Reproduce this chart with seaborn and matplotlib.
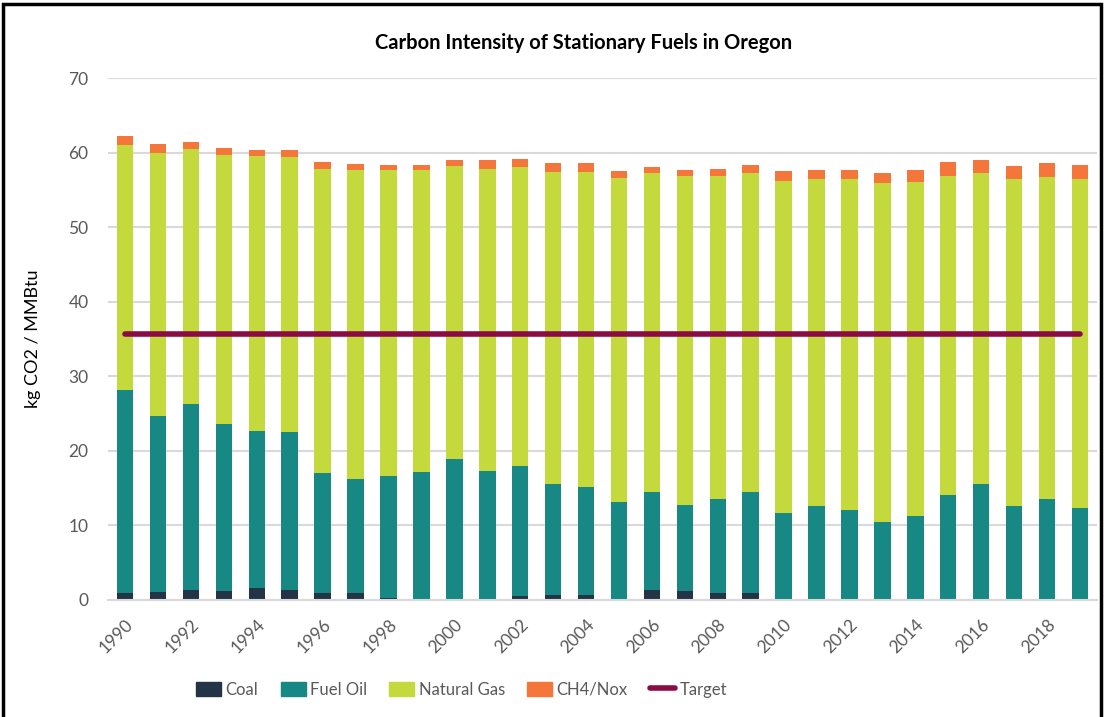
import numpy as np
import pandas as pd
import matplotlib
matplotlib.use("Agg")
import matplotlib.pyplot as plt
import seaborn as sns
from matplotlib.patches import Patch, Rectangle
from matplotlib.lines import Line2D

years = list(range(1990, 2020))
coal = [0.9, 1.1, 1.3, 1.2, 1.6, 1.4, 0.9, 0.9, 0.3, 0.0, 0.0, 0.0, 0.5, 0.7, 0.7,
        0.0, 1.3, 1.2, 0.9, 0.9, 0.0, 0.0, 0.0, 0.0, 0.0, 0.0, 0.0, 0.0, 0.0, 0.0]
fuel_oil = [27.3, 23.6, 25.0, 22.4, 21.1, 21.1, 16.1, 15.3, 16.3, 17.1, 18.9, 17.3, 17.5, 14.9, 14.4,
            13.1, 13.2, 11.6, 12.7, 13.6, 11.7, 12.6, 12.1, 10.4, 11.2, 14.1, 15.5, 12.6, 13.6, 12.4]
natural_gas = [32.8, 35.3, 34.2, 36.1, 36.8, 36.9, 40.8, 41.4, 41.1, 40.6, 39.3, 40.5, 40.1, 41.8, 42.3,
               43.5, 42.7, 44.0, 43.3, 42.7, 44.5, 43.9, 44.3, 45.5, 44.9, 42.8, 41.8, 43.9, 43.1, 44.1]
ch4_nox = [1.2, 1.1, 0.9, 0.9, 0.9, 1.0, 0.9, 0.9, 0.7, 0.7, 0.8, 1.2, 1.1, 1.2, 1.2,
           0.9, 0.9, 0.9, 0.9, 1.2, 1.3, 1.2, 1.3, 1.4, 1.5, 1.8, 1.7, 1.7, 1.9, 1.9]
target = [35.7] * 30
tick_labels = [str(y) if (y - 1990) % 2 == 0 else "" for y in years]

C_COAL = "#243447"
C_OIL = "#178884"
C_GAS = "#c4da3c"
C_CH4 = "#f4763a"
C_TGT = "#8b0b45"
GRAY = "#595959"

df = pd.DataFrame({"year": [str(y) for y in years], "coal": coal, "oil": fuel_oil,
                   "gas": natural_gas, "ch4": ch4_nox})
df["t_coal"] = df["coal"]
df["t_oil"] = df["t_coal"] + df["oil"]
df["t_gas"] = df["t_oil"] + df["gas"]
df["t_ch4"] = df["t_gas"] + df["ch4"]

sns.set_theme(style="white")
plt.rcParams["font.family"] = ["Lato", "DejaVu Sans"]

fig = plt.figure(figsize=(11.04, 7.17), dpi=100)
ax = fig.add_axes([0.0978, 0.1632, 0.8959, 0.728])

for col, c in [("t_ch4", C_CH4), ("t_gas", C_GAS), ("t_oil", C_OIL), ("t_coal", C_COAL)]:
    sns.barplot(data=df, x="year", y=col, color=c, width=0.5, ax=ax,
                saturation=1, linewidth=0, errorbar=None)

ax.plot(np.arange(len(years)), target, color=C_TGT, lw=4, solid_capstyle="round", zorder=5)

ax.set_xlim(-0.52, 29.52)
ax.set_ylim(0, 70)
ax.set_yticks(range(0, 71, 10))
ax.yaxis.grid(True, color="#d9d9d9", lw=1.5)
ax.set_axisbelow(True)
for s in ["top", "right", "left"]:
    ax.spines[s].set_visible(False)
ax.spines["bottom"].set_color("#d9d9d9")
ax.spines["bottom"].set_linewidth(1.5)

ax.set_xticks(range(len(years)))
ax.set_xticklabels(tick_labels, rotation=45, ha="right", rotation_mode="anchor",
                   fontsize=12.5, color=GRAY)
ax.tick_params(axis="x", length=0, pad=12)
ax.tick_params(axis="y", length=0, pad=14, labelsize=12.5, labelcolor=GRAY)
ax.set_xlabel("")
ax.set_ylabel("kg CO2 / MMBtu", fontsize=13, color="black", labelpad=20)

fig.text(0.529, 0.94, "Carbon Intensity of Stationary Fuels in Oregon", ha="center", va="center",
         fontsize=14.5, fontweight="bold", color="black")

handles = [Patch(color=C_COAL, label="Coal"), Patch(color=C_OIL, label="Fuel Oil"),
           Patch(color=C_GAS, label="Natural Gas"), Patch(color=C_CH4, label="CH4/Nox"),
           Line2D([0], [0], color=C_TGT, lw=4, solid_capstyle="round", label="Target")]
leg = fig.legend(handles=handles, loc="center", bbox_to_anchor=(0.418, 0.038), ncol=5,
                 frameon=False, fontsize=12, handlelength=1.5, handleheight=0.9,
                 columnspacing=1.35, handletextpad=0.25)
for t in leg.get_texts():
    t.set_color(GRAY)

fig.patches.append(Rectangle((0.003, -0.01), 0.994, 1.005, transform=fig.transFigure,
                             fill=False, edgecolor="black", lw=2.5))

fig.savefig("out.png", dpi=100)
